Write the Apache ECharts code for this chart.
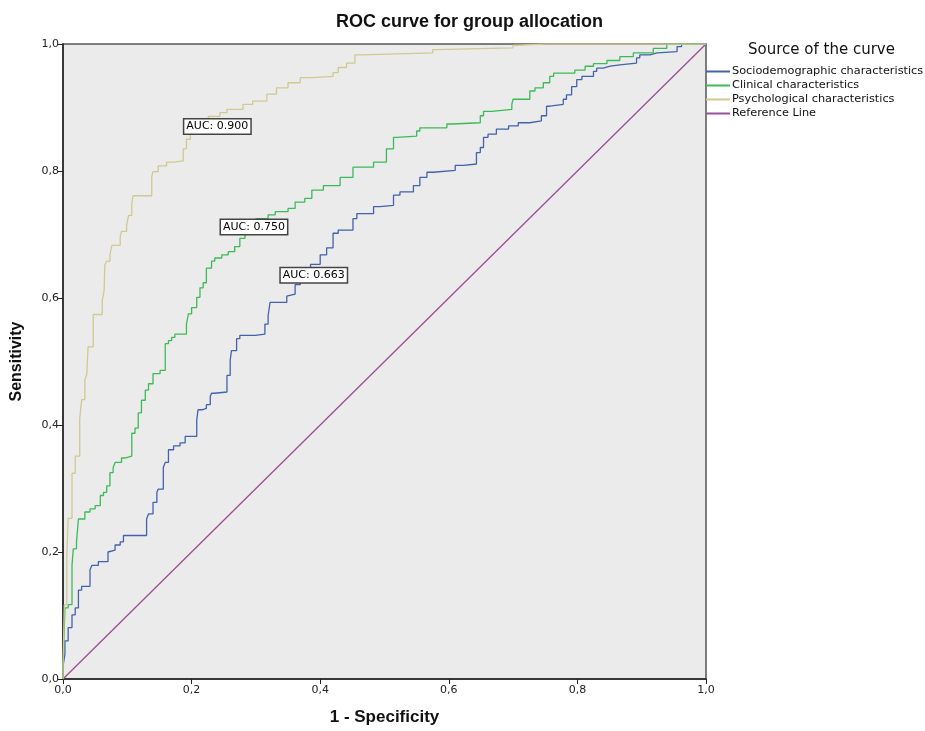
<!DOCTYPE html>
<html lang="en">
<head>
    <meta charset="UTF-8"/>
    <title>ROC curve</title>
    <script src="https://cdn.jsdelivr.net/npm/echarts@6/dist/echarts.min.js"></script>
</head>
<body style="margin:0;background:#fff">
<div id="main" style="width:925px;height:731px"></div>
<script type="text/javascript">
    // curve names as in the legend
    var seriesNames = ['Sociodemographic characteristics', 'Clinical characteristics',
                       'Psychological characteristics', 'Reference Line'];

    // [1 - specificity, sensitivity]
    var socioPoints = [[0,0],[0.003,0.02],[0.003,0.039],[0.008,0.060],[0.014,0.081],[0.019,0.101],[0.024,0.112],
        [0.029,0.140],[0.034,0.146],[0.042,0.146],[0.045,0.172],[0.055,0.179],[0.058,0.185],[0.070,0.185],
        [0.073,0.200],[0.081,0.203],[0.089,0.211],[0.094,0.216],[0.104,0.226],[0.130,0.226],[0.133,0.252],
        [0.140,0.260],[0.146,0.278],[0.148,0.294],[0.156,0.299],[0.159,0.333],[0.164,0.341],[0.172,0.361],
        [0.182,0.367],[0.190,0.372],[0.195,0.382],[0.208,0.382],[0.210,0.408],[0.216,0.424],[0.223,0.426],
        [0.229,0.432],[0.231,0.445],[0.236,0.450],[0.255,0.452],[0.260,0.478],[0.262,0.502],[0.270,0.517],
        [0.275,0.536],[0.299,0.541],[0.314,0.543],[0.319,0.559],[0.322,0.572],[0.327,0.593],[0.348,0.593],
        [0.350,0.603],[0.361,0.606],[0.369,0.621],[0.385,0.635],[0.400,0.653],[0.410,0.668],[0.420,0.679],
        [0.428,0.702],[0.431,0.707],[0.451,0.707],[0.457,0.725],[0.483,0.733],[0.493,0.744],[0.514,0.746],
        [0.524,0.762],[0.545,0.767],[0.555,0.777],[0.566,0.790],[0.576,0.798],[0.610,0.801],[0.623,0.809],
        [0.643,0.811],[0.649,0.829],[0.654,0.837],[0.661,0.853],[0.674,0.858],[0.693,0.866],[0.708,0.871],
        [0.726,0.876],[0.744,0.879],[0.752,0.887],[0.757,0.902],[0.778,0.905],[0.783,0.913],[0.791,0.920],
        [0.799,0.933],[0.807,0.944],[0.825,0.949],[0.830,0.957],[0.840,0.962],[0.851,0.965],[0.866,0.967],
        [0.892,0.970],[0.897,0.978],[0.913,0.983],[0.924,0.986],[0.955,0.988],[0.962,0.996],[0.970,1],[1,1]];

    var clinicalPoints = [[0,0],[0.003,0.016],[0.008,0.112],[0.014,0.117],[0.016,0.179],[0.021,0.205],
        [0.024,0.216],[0.029,0.252],[0.034,0.252],[0.042,0.263],[0.050,0.268],[0.058,0.273],[0.063,0.289],
        [0.068,0.294],[0.073,0.304],[0.078,0.325],[0.081,0.333],[0.091,0.341],[0.096,0.348],[0.107,0.351],
        [0.112,0.387],[0.117,0.395],[0.122,0.419],[0.128,0.439],[0.133,0.455],[0.140,0.465],[0.151,0.481],
        [0.159,0.486],[0.164,0.528],[0.169,0.533],[0.174,0.538],[0.192,0.543],[0.195,0.559],[0.200,0.575],
        [0.208,0.585],[0.213,0.601],[0.218,0.616],[0.223,0.624],[0.231,0.647],[0.236,0.658],[0.247,0.663],
        [0.257,0.668],[0.267,0.673],[0.275,0.681],[0.283,0.694],[0.286,0.710],[0.300,0.715],[0.319,0.725],
        [0.330,0.731],[0.350,0.736],[0.361,0.741],[0.376,0.751],[0.387,0.757],[0.405,0.770],[0.431,0.777],
        [0.451,0.790],[0.483,0.806],[0.503,0.814],[0.514,0.835],[0.519,0.853],[0.550,0.855],[0.555,0.863],
        [0.597,0.868],[0.605,0.874],[0.649,0.876],[0.654,0.887],[0.667,0.894],[0.698,0.897],[0.700,0.905],
        [0.726,0.913],[0.734,0.926],[0.747,0.931],[0.757,0.939],[0.763,0.949],[0.796,0.954],[0.812,0.959],
        [0.825,0.965],[0.846,0.969],[0.866,0.974],[0.887,0.980],[0.918,0.986],[0.939,0.993],[0.949,1],[1,1]];

    var psychPoints = [[0,0],[0.002,0.020],[0.006,0.117],[0.008,0.195],[0.014,0.253],[0.019,0.324],
        [0.026,0.351],[0.029,0.410],[0.034,0.440],[0.037,0.471],[0.039,0.480],[0.047,0.523],[0.050,0.574],
        [0.061,0.574],[0.064,0.596],[0.065,0.612],[0.068,0.652],[0.073,0.658],[0.076,0.668],[0.081,0.683],
        [0.089,0.683],[0.091,0.697],[0.099,0.705],[0.102,0.715],[0.107,0.730],[0.109,0.749],[0.117,0.761],
        [0.138,0.761],[0.140,0.791],[0.148,0.799],[0.161,0.808],[0.172,0.814],[0.187,0.816],[0.192,0.835],
        [0.198,0.850],[0.218,0.858],[0.226,0.870],[0.244,0.886],[0.255,0.892],[0.280,0.897],[0.295,0.905],
        [0.317,0.910],[0.332,0.921],[0.350,0.931],[0.369,0.939],[0.389,0.947],[0.420,0.949],[0.428,0.955],
        [0.441,0.963],[0.454,0.970],[0.465,0.983],[0.575,0.986],[0.581,0.991],[0.700,0.994],[0.706,0.998],
        [0.750,1],[1,1]];

    var referencePoints = [[0,0],[1,1]];

    // AUC boxes, anchored on their curves
    var aucTexts = ['AUC: 0.900', 'AUC: 0.750', 'AUC: 0.663'];
    var aucAnchors = [[0.240,0.870],[0.297,0.712],[0.390,0.636]];

    var tickLabels = ['0,0', '0,2', '0,4', '0,6', '0,8', '1,0'];

    var colors = ['#4262ac', '#3dba58', '#cfc992', '#9a4d97'];
    var font = 'DejaVu Sans';

    function tickText(v) {
        return tickLabels[Math.round(v / 0.2)];
    }

    function aucMark(i) {
        return {
            symbol: 'rect',
            symbolSize: [1, 1],
            silent: true,
            itemStyle: {color: 'rgba(0,0,0,0)'},
            label: {
                show: true, position: 'inside', formatter: aucTexts[i],
                color: '#000', fontFamily: font, fontSize: 11,
                backgroundColor: '#fff', borderColor: '#444', borderWidth: 1.5,
                padding: [2, 2, 1, 2]
            },
            data: [{coord: aucAnchors[i]}]
        };
    }

    function curve(i, pts, mark) {
        var s = {
            name: seriesNames[i],
            type: 'line',
            data: pts,
            step: i < 3 ? 'start' : false,
            showSymbol: false,
            lineStyle: {color: colors[i], width: 1.3},
            itemStyle: {color: colors[i]},
            z: i === 3 ? 2 : 3
        };
        if (mark !== undefined) s.markPoint = aucMark(mark);
        return s;
    }

    var myChart = echarts.init(document.getElementById('main'));

    var option = {
        animation: false,
        textStyle: {fontFamily: font},
        title: [{
            text: 'ROC curve for group allocation',
            left: 331, top: 8,
            textStyle: {fontFamily: 'Liberation Sans', fontSize: 18, fontWeight: 'bold', color: '#111'}
        }, {
            text: 'Source of the curve',
            left: 743, top: 38,
            textStyle: {fontFamily: font, fontSize: 15, fontWeight: 'normal', color: '#111'}
        }],
        legend: {
            orient: 'vertical',
            left: 706, top: 66,
            padding: 0,
            itemWidth: 24, itemHeight: 2, itemGap: 3,
            icon: 'rect',
            textStyle: {fontFamily: font, fontSize: 11.3, color: '#111', padding: [0, 0, 0, -3]},
            data: seriesNames
        },
        grid: {
            left: 63, right: 219, top: 44, bottom: 46,
            show: true, backgroundColor: '#ebebeb', borderColor: '#555', borderWidth: 1.5
        },
        xAxis: {
            type: 'value', min: 0, max: 1, interval: 0.2,
            name: '1 - Specificity', nameLocation: 'middle', nameGap: 30,
            nameTextStyle: {fontFamily: 'Liberation Sans', fontSize: 17, fontWeight: 'bold', color: '#111'},
            axisLine: {show: true, lineStyle: {color: '#222', width: 1.5}},
            axisTick: {show: true, length: 5, lineStyle: {color: '#222'}},
            axisLabel: {formatter: tickText, fontSize: 11, color: '#222', margin: 6},
            splitLine: {show: false}
        },
        yAxis: {
            type: 'value', min: 0, max: 1, interval: 0.2,
            name: 'Sensitivity', nameLocation: 'middle', nameGap: 38,
            nameTextStyle: {fontFamily: 'Liberation Sans', fontSize: 16, fontWeight: 'bold', color: '#111'},
            axisLine: {show: true, lineStyle: {color: '#222', width: 1.5}},
            axisTick: {show: true, length: 5, lineStyle: {color: '#222'}},
            axisLabel: {formatter: tickText, fontSize: 11, color: '#222', margin: 4},
            splitLine: {show: false}
        },
        series: [
            curve(0, socioPoints, 2),
            curve(1, clinicalPoints, 1),
            curve(2, psychPoints, 0),
            curve(3, referencePoints)
        ]
    };

    myChart.setOption(option);
</script>
</body>
</html>
